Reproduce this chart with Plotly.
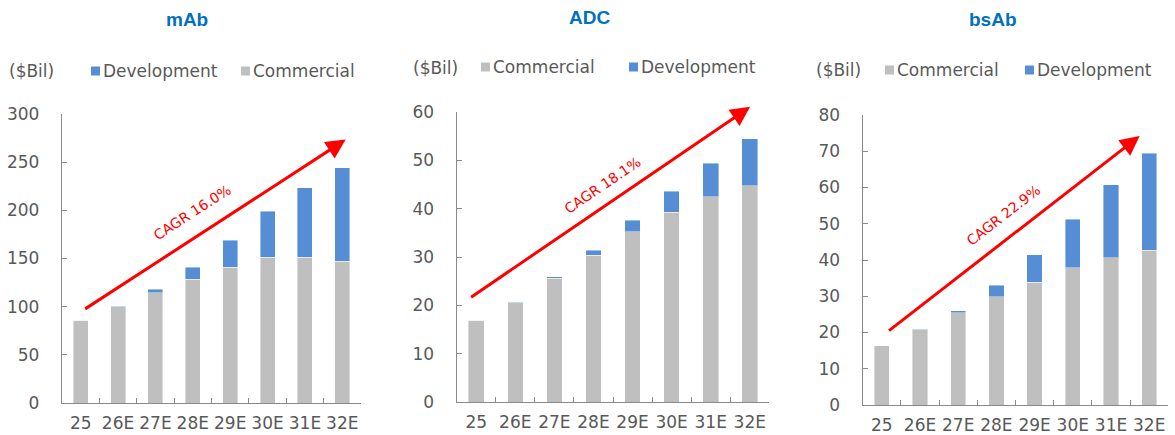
import plotly.graph_objects as go

W, H = 1175, 435

categories = ["25", "26E", "27E", "28E", "29E", "30E", "31E", "32E"]

mab_commercial = [86, 100, 114.4, 128.6, 141, 151.4, 151.4, 147.3]
mab_development = [0, 0.6, 3.5, 12.4, 27.7, 47.7, 71.9, 96.7]
adc_commercial = [16.9, 20.6, 25.6, 30.4, 35.2, 39.2, 42.4, 44.7]
adc_development = [0, 0.1, 0.3, 1.0, 2.4, 4.4, 7.0, 9.7]
bsab_commercial = [16.3, 20.8, 25.4, 29.9, 33.9, 37.8, 40.6, 42.7]
bsab_development = [0, 0.1, 0.6, 3.2, 7.5, 13.4, 20.1, 26.7]

titles = ["mAb", "ADC", "bsAb"]
cagr_labels = ["CAGR 16.0%", "CAGR 18.1%", "CAGR 22.9%"]
y_max = [300, 60, 80]
y_dtick = [50, 10, 10]

GREY = "#BFBFBF"
BLUE = "#558ED5"
TXT = "#595959"
AX = "#898989"
FONT = "DejaVu Sans, sans-serif"
TFONT = "Liberation Sans, Arial, sans-serif"

def px(x):
    return x / W

def py(y):
    return 1 - y / H

# panel geometry in pixels: (x_left, x_right, y_bottom, y_top)
panels = [(62, 361, 403, 114), (456.7, 769.3, 402.3, 111.7), (862.7, 1168.3, 405, 115)]

series = [
    (mab_commercial, mab_development),
    (adc_commercial, adc_development),
    (bsab_commercial, bsab_development),
]

fig = go.Figure()
for i, (comm, dev) in enumerate(series):
    xa = "x" if i == 0 else f"x{i+1}"
    ya = "y" if i == 0 else f"y{i+1}"
    fig.add_trace(go.Bar(x=categories, y=comm, name="Commercial", marker_color=GREY,
                         marker_line=dict(width=0.6, color="rgba(255,255,255,0.7)"),
                         xaxis=xa, yaxis=ya, showlegend=False))
    fig.add_trace(go.Bar(x=categories, y=dev, name="Development", marker_color=BLUE,
                         marker_line=dict(width=0.6, color="rgba(255,255,255,0.7)"),
                         xaxis=xa, yaxis=ya, showlegend=False))

layout = dict(
    width=W, height=H, margin=dict(l=0, r=0, t=0, b=0, autoexpand=False),
    paper_bgcolor="white", plot_bgcolor="white",
    barmode="stack", bargap=0.6,
    font=dict(family=FONT, color=TXT, size=17),
)
for i, (xl, xr, yb, yt) in enumerate(panels):
    sx = "" if i == 0 else str(i + 1)
    layout["xaxis" + sx] = dict(
        domain=[px(xl), px(xr)], anchor="y" + sx, type="category",
        range=[-0.5, 7.5], showline=True, linecolor=AX, linewidth=1.3,
        ticks="inside", tickson="boundaries", ticklen=5, tickcolor=AX,
        showgrid=False, zeroline=False, tickfont=dict(size=17, color=TXT),
        tickangle=0, automargin=False, ticklabelstandoff=4,
    )
    layout["yaxis" + sx] = dict(
        domain=[py(yb), py(yt)], anchor="x" + sx, range=[0, y_max[i]],
        dtick=y_dtick[i], showline=True, linecolor=AX, linewidth=1.3,
        ticks="inside", ticklen=5, tickcolor=AX, showgrid=False, zeroline=False,
        tickfont=dict(size=17, color=TXT), ticklabelstandoff=18, automargin=False,
    )
fig.update_layout(**layout)

annotations = []
shapes = []

# titles
title_pos = [(187, 19), (589, 18), (993, 19)]
for t, (tx, ty) in zip(titles, title_pos):
    annotations.append(dict(text=f"<b>{t}</b>", x=px(tx), y=py(ty), xref="paper", yref="paper",
                            showarrow=False, xanchor="center", yanchor="middle",
                            font=dict(size=19, color="#0070C0", family=TFONT)))

# unit labels
unit_pos = [(7, 71), (411, 68), (814, 70)]
for (ux, uy) in unit_pos:
    annotations.append(dict(text="($Bil)", x=px(ux), y=py(uy), xref="paper", yref="paper",
                            showarrow=False, xanchor="left", yanchor="middle",
                            font=dict(size=17, color=TXT, family=FONT)))

# legend items: (square_x, label, color, y)
legend_items = [
    (91, "Development", BLUE, 71), (241, "Commercial", GREY, 71),
    (481, "Commercial", GREY, 67), (629, "Development", BLUE, 67),
    (885, "Commercial", GREY, 70), (1025, "Development", BLUE, 70),
]
for sx_, lab, col, ly in legend_items:
    shapes.append(dict(type="rect", xref="paper", yref="paper",
                       x0=px(sx_), x1=px(sx_ + 9), y0=py(ly + 4.5), y1=py(ly - 4.5),
                       fillcolor=col, line=dict(width=0)))
    annotations.append(dict(text=lab, x=px(sx_ + 10), y=py(ly), xref="paper", yref="paper",
                            showarrow=False, xanchor="left", yanchor="middle",
                            font=dict(size=17, color=TXT, family=FONT)))

# CAGR arrows (data coordinates: category index, value)
arrows = [((0.08, 96.7), (7.09, 273.4)), ((-0.17, 21.5), (7.01, 61.0)), ((0.15, 20.2), (6.75, 74.2))]
cagr_text_pos = [(3.0, 198, -33), (3.24, 44.9, -34.3), (3.19, 52.4, -37.8)]
for i, ((x0, y0), (x1, y1)) in enumerate(arrows):
    sx = "" if i == 0 else str(i + 1)
    annotations.append(dict(text="", x=x1, y=y1, ax=x0, ay=y0, xref="x" + sx, yref="y" + sx,
                            axref="x" + sx, ayref="y" + sx, showarrow=True, arrowhead=2,
                            arrowsize=1.3, arrowwidth=3, arrowcolor="#FF0000", standoff=0))
    tx, ty, ang = cagr_text_pos[i]
    annotations.append(dict(text=cagr_labels[i], x=tx, y=ty, xref="x" + sx, yref="y" + sx,
                            showarrow=False, textangle=ang, xanchor="center", yanchor="middle",
                            font=dict(size=14, color="#FF0000", family=FONT)))

fig.update_layout(annotations=annotations, shapes=shapes)
fig.write_html("out.html", config={"displayModeBar": False},
               post_script="document.body.style.margin='0';document.body.style.overflow='hidden';")
